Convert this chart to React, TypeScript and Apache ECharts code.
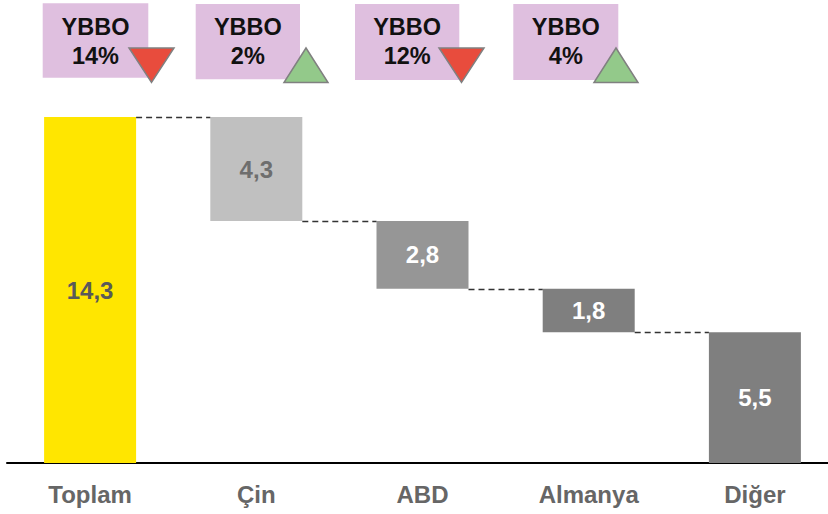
import React, { useEffect, useRef } from "react";
import * as echarts from "echarts";

const categories = ["Toplam", "Çin", "ABD", "Almanya", "Diğer"];
const values = [14.3, 4.3, 2.8, 1.8, 5.5];
const valueLabels = ["14,3", "4,3", "2,8", "1,8", "5,5"];
const barColors = ["#FFE600", "#C0C0C0", "#969696", "#7F7F7F", "#7F7F7F"];
const labelColors = ["#595959", "#6E6E6E", "#FFFFFF", "#FFFFFF", "#FFFFFF"];
const ybboValues = ["14%", "2%", "12%", "4%"];
const ybboTrend = ["down", "up", "down", "up"];

const FONT = "'Liberation Sans', Arial, sans-serif";

export default function App() {
  const ref = useRef<HTMLDivElement>(null);

  useEffect(() => {
    if (!ref.current) return;
    const chart = echarts.init(ref.current, undefined, { renderer: "svg" });

    // waterfall levels
    const tops: number[] = [];
    const bottoms: number[] = [];
    let running = values[0];
    tops.push(values[0]);
    bottoms.push(0);
    for (let i = 1; i < values.length; i++) {
      tops.push(running);
      const b = Math.max(0, +(running - values[i]).toFixed(2));
      bottoms.push(b);
      running = b;
    }

    const barData = values.map((v, i) => [i, bottoms[i], tops[i]]);
    const connData = values.slice(0, -1).map((_, i) => [i, tops[i + 1]]);

    const BAR_W = 92;

    // annotation layout (boxes above categories)
    const boxes = [
      [42.7, 3.3, 105.6, 74.4],
      [195.7, 4, 104.3, 75.3],
      [355, 4, 104.3, 76],
      [513.3, 4, 105, 76],
    ];
    const triX = [151.5, 306, 461.5, 616];
    const graphics: any[] = [];
    ybboValues.forEach((t, i) => {
      const [bx, by, bw, bh] = boxes[i];
      const cx = bx + bw / 2;
      graphics.push({
        type: "rect",
        shape: { x: bx, y: by, width: bw, height: bh },
        style: { fill: "#DFBFDF" },
        z: 10,
      });
      graphics.push({
        type: "text",
        style: {
          text: "YBBO",
          x: cx,
          y: 26.5,
          textAlign: "center",
          textVerticalAlign: "middle",
          fill: "#111111",
          fontSize: 23.5,
          fontWeight: "bold",
          fontFamily: FONT,
        },
        z: 11,
      });
      graphics.push({
        type: "text",
        style: {
          text: t,
          x: cx,
          y: 55.5,
          textAlign: "center",
          textVerticalAlign: "middle",
          fill: "#111111",
          fontSize: 23.5,
          fontWeight: "bold",
          fontFamily: FONT,
        },
        z: 11,
      });
      const tx = triX[i];
      const down = ybboTrend[i] === "down";
      const pts = down
        ? [
            [tx - 22.5, 48],
            [tx + 22.5, 48],
            [tx, 82.5],
          ]
        : [
            [tx, 48],
            [tx - 22, 82.5],
            [tx + 22, 82.5],
          ];
      graphics.push({
        type: "polygon",
        shape: { points: pts },
        style: {
          fill: down ? "#E84C3D" : "#93C98A",
          stroke: "#808080",
          lineWidth: 1.5,
        },
        z: 12,
      });
    });

    chart.setOption({
      animation: false,
      grid: { left: 7, top: 117, right: 2, bottom: 51 },
      xAxis: {
        type: "category",
        data: categories,
        axisLine: { show: true, lineStyle: { color: "#000000", width: 2 } },
        axisTick: { show: false },
        axisLabel: {
          margin: 19,
          color: "#666666",
          fontSize: 24,
          fontWeight: "bold",
          fontFamily: FONT,
        },
      },
      yAxis: {
        type: "value",
        min: 0,
        max: values[0],
        show: false,
        splitLine: { show: false },
      },
      graphic: graphics,
      series: [
        {
          type: "custom",
          data: barData,
          renderItem: (params: any, api: any) => {
            const idx = api.value(0);
            const b = api.value(1);
            const t = api.value(2);
            const p1 = api.coord([idx, t]);
            const p0 = api.coord([idx, b]);
            const x = p1[0] - BAR_W / 2;
            const y = p1[1];
            const h = p0[1] - p1[1];
            const i = params.dataIndex;
            return {
              type: "group",
              children: [
                {
                  type: "rect",
                  shape: { x, y, width: BAR_W, height: h },
                  style: { fill: barColors[i] },
                },
                {
                  type: "text",
                  style: {
                    text: valueLabels[i],
                    x: p1[0],
                    y: y + h / 2,
                    textAlign: "center",
                    textVerticalAlign: "middle",
                    fill: labelColors[i],
                    fontSize: 24,
                    fontWeight: "bold",
                    fontFamily: FONT,
                  },
                },
              ],
            };
          },
          z: 2,
        },
        {
          type: "custom",
          data: connData,
          renderItem: (params: any, api: any) => {
            const idx = api.value(0);
            const lv = api.value(1);
            const a = api.coord([idx, lv]);
            const c = api.coord([idx + 1, lv]);
            return {
              type: "line",
              shape: {
                x1: a[0] + BAR_W / 2,
                y1: Math.round(a[1]) + 0.5,
                x2: c[0] - BAR_W / 2,
                y2: Math.round(a[1]) + 0.5,
              },
              style: { stroke: "#333333", lineWidth: 1.3, lineDash: [6, 4] },
            };
          },
          z: 3,
        },
      ],
    });

    return () => chart.dispose();
  }, []);

  return (
    <div
      style={{ position: "fixed", left: 0, top: 0, width: 828, height: 514, overflow: "hidden", background: "#ffffff" }}
    >
      <div ref={ref} style={{ width: 840, height: 514 }} />
    </div>
  );
}
